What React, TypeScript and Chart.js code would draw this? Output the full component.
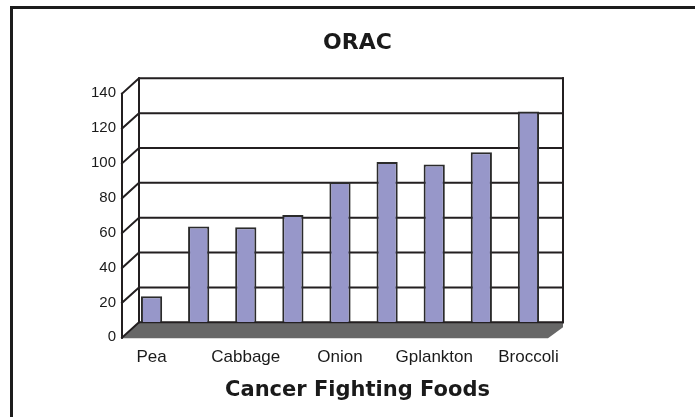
import React, { useEffect, useRef } from "react";
import { Chart, registerables } from "chart.js";

Chart.register(...registerables);

const categories = ["Pea", "", "Cabbage", "", "Onion", "", "Gplankton", "", "Broccoli"];
const oracValues = [15, 55, 54.5, 61.5, 80.5, 92, 90.5, 97.5, 121];
const yTickValues = [0, 20, 40, 60, 80, 100, 120, 140];
const chartTitle = "ORAC";
const xAxisTitle = "Cancer Fighting Foods";

const LINE = "#231f20";
const BACK_DX = 11; // back wall offset from bar scale
const DEPTH_X = 17; // front axis to back wall
const DEPTH_Y = 15.4;

const wall3d = {
  id: "wall3d",
  beforeDatasetsDraw(chart: any) {
    const { ctx, chartArea, scales } = chart;
    const y = scales.y;
    const bx0 = chartArea.left + BACK_DX;
    const bx1 = chartArea.right + BACK_DX;
    const y0 = y.getPixelForValue(0);
    const yTop = y.getPixelForValue(yTickValues[yTickValues.length - 1]);
    ctx.save();
    // floor
    ctx.fillStyle = "#676767";
    ctx.beginPath();
    ctx.moveTo(bx0, y0);
    ctx.lineTo(bx1, y0);
    ctx.lineTo(bx1, y0 + 5);
    ctx.lineTo(bx1 - DEPTH_X + 2, y0 + DEPTH_Y + 0.5);
    ctx.lineTo(bx0 - DEPTH_X, y0 + DEPTH_Y + 0.5);
    ctx.closePath();
    ctx.fill();
    ctx.strokeStyle = LINE;
    ctx.lineWidth = 2;
    ctx.lineCap = "square";
    for (const v of yTickValues) {
      const py = y.getPixelForValue(v);
      ctx.beginPath();
      ctx.moveTo(bx0 - DEPTH_X, py + DEPTH_Y);
      ctx.lineTo(bx0, py);
      ctx.lineTo(bx1, py);
      ctx.stroke();
    }
    ctx.beginPath();
    ctx.moveTo(bx0, yTop);
    ctx.lineTo(bx0, y0);
    ctx.moveTo(bx1, yTop);
    ctx.lineTo(bx1, y0);
    ctx.moveTo(bx0 - DEPTH_X, yTop + DEPTH_Y);
    ctx.lineTo(bx0 - DEPTH_X, y0 + DEPTH_Y);
    ctx.stroke();
    ctx.restore();
  },
  afterDraw(chart: any) {
    const { ctx } = chart;
    ctx.save();
    ctx.fillStyle = "#1c1c1c";
    ctx.fillRect(10, 6, 700, 3);
    ctx.fillRect(10, 6, 3, 420);
    ctx.restore();
  },
};

export default function App() {
  const ref = useRef<HTMLCanvasElement>(null);
  useEffect(() => {
    if (!ref.current) return;
    const chart = new Chart(ref.current, {
      type: "bar",
      data: {
        labels: categories,
        datasets: [
          {
            label: chartTitle,
            data: oracValues,
            backgroundColor: "#9797c9",
            borderColor: "#2b2b2b",
            borderWidth: 2,
            barPercentage: 0.45,
            categoryPercentage: 1,
          },
        ],
      },
      options: {
        responsive: false,
        animation: false,
        layout: { padding: { left: 20, right: 0, top: 0, bottom: 0 } },
        plugins: {
          legend: { display: false },
          tooltip: { enabled: false },
          title: {
            display: true,
            text: chartTitle,
            color: "#1a1a1a",
            font: { family: "DejaVu Sans", size: 22, weight: "bold" },
            padding: { top: 29.8, bottom: 22.1 },
          },
          subtitle: {
            display: true,
            position: "bottom",
            text: xAxisTitle,
            color: "#1a1a1a",
            font: { family: "DejaVu Sans", size: 21, weight: "bold" },
            padding: { top: 0, bottom: 13.4 },
          },
        },
        scales: {
          x: {
            offset: true,
            grid: { display: false, drawTicks: false },
            border: { display: false },
            ticks: {
              autoSkip: false,
              maxRotation: 0,
              padding: 25,
              color: "#1a1a1a",
              font: { family: "Liberation Sans", size: 17 },
            },
            afterFit: (s: any) => {
              s.height = 56.1;
            },
          },
          y: {
            min: 0,
            max: 140,
            grid: { display: false, drawTicks: false },
            border: { display: false },
            ticks: {
              stepSize: 20,
              padding: 12,
              labelOffset: 15,
              color: "#1a1a1a",
              font: { family: "Liberation Sans", size: 15 },
            },
            afterFit: (s: any) => {
              s.width = 108;
            },
          },
          yRight: {
            position: "right",
            display: true,
            grid: { display: false, drawTicks: false },
            border: { display: false },
            ticks: { display: false },
            afterFit: (s: any) => {
              s.width = 143;
            },
          },
        },
      },
      plugins: [wall3d],
    });
    return () => chart.destroy();
  }, []);
  return (
    <div style={{ position: "fixed", left: 0, top: 0, width: 695, height: 417, background: "#fff" }}>
      <canvas ref={ref} width={695} height={417} />
    </div>
  );
}
